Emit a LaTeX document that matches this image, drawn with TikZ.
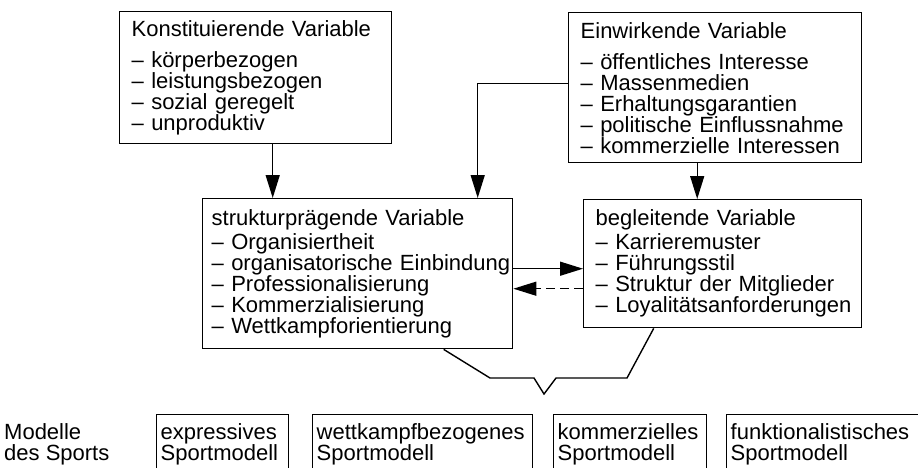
\documentclass[tikz,border=0pt]{standalone}
\usepackage{fontspec}
\setmainfont{Liberation Sans}
\usetikzlibrary{positioning,arrows.meta,calc}
\hyphenpenalty=10000
\exhyphenpenalty=10000
\tikzset{
  vartext/.style={font=\fontsize{22pt}{21pt}\selectfont,execute at begin node={\lineskiplimit=-30pt\relax}},
  varbox/.style={vartext,draw,line width=1.4pt,anchor=north west,align=left,inner xsep=12pt,inner ysep=0pt},
  modtext/.style={vartext,anchor=north west,align=left,inner xsep=4pt,inner ysep=9pt},
  modbox/.style={modtext,draw,line width=1.4pt,text depth=40pt},
  arr/.style={-{Triangle[length=23pt,width=14pt]},line width=1.4pt},
  link/.style={line width=1.4pt,line join=miter}
}

\begin{document}
\begin{tikzpicture}[x=1pt,y=-1pt]
\useasboundingbox (0,0) rectangle (918,467);
\clip (0,0) rectangle (918,467);

% Variablen
\node[varbox,text width=248pt,minimum height=132pt] (konst) at (119,11)
  {Konstituierende Variable\\[10pt]– körperbezogen\\– leistungsbezogen\\– sozial geregelt\\– unproduktiv};
\node[varbox,text width=269pt,minimum height=150pt] (einw) at (568,12)
  {Einwirkende Variable\\[10pt]\mbox{– öffentliches Interesse}\\– Massenmedien\\– Erhaltungsgarantien\\\mbox{– politische Einflussnahme}\\\mbox{– kommerzielle Interessen}};
\node[varbox,inner xsep=9pt,text width=292pt,minimum height=150pt] (strukt) at (202,198)
  {\mbox{strukturprägende Variable}\\[3pt]– Organisiertheit\\\mbox{– organisatorische Einbindung}\\– Professionalisierung\\– Kommerzialisierung\\– Wettkampforientierung};
\node[varbox,text width=254pt,minimum height=128pt] (begl) at (583,199)
  {begleitende Variable\\[3pt]– Karrieremuster\\– Führungsstil\\\mbox{– Struktur der Mitglieder}\\\mbox{– Loyalitätsanforderungen}};

% Modelle
\node[modtext] (modelle) at (0,414) {Modelle\\des Sports};
\node[modbox,text width=124pt] (expr) at (156,414) {expressives\\Sportmodell};
\node[modbox,text width=212pt] (wett) at (312,414) {wettkampfbezogenes\\Sportmodell};
\node[modbox,text width=145pt] (komm) at (553,414) {kommerzielles\\Sportmodell};
\node[modbox,text width=200pt] (funk) at (726,414) {funktionalistisches\\Sportmodell};

% Pfeile
\draw[arr] ([xshift=17pt]konst.south) -- ([xshift=17pt]konst.south |- strukt.north);
\draw[arr] ([yshift=4pt]einw.west) -| ([xshift=120pt]strukt.north);
\draw[arr] ([xshift=-18pt]einw.south) -- ([xshift=-18pt]einw.south |- begl.north);
\draw[arr] ([yshift=5pt]strukt.east) -- ([yshift=5pt]strukt.east -| begl.west);
\draw[arr,dash pattern=on 9pt off 5pt] ([yshift=-15pt]strukt.east -| begl.west) -- ([yshift=-15pt]strukt.east);

% Klammer
\coordinate (tip) at (544,394);
\draw[link] ([xshift=86pt]strukt.south) -- ([xshift=-54pt,yshift=16pt]tip)
  -- ([xshift=-10pt,yshift=16pt]tip) -- (tip) -- ([xshift=12pt,yshift=16pt]tip)
  -- ([xshift=83pt,yshift=16pt]tip) -- ([xshift=-69pt]begl.south);
\end{tikzpicture}
\end{document}
